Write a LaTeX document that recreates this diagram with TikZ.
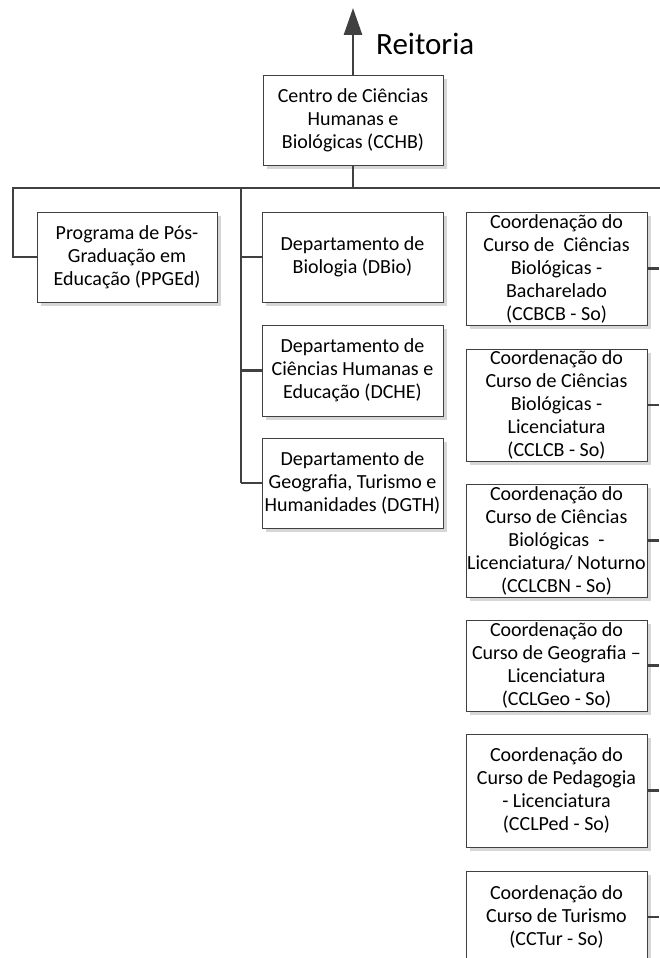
\documentclass[tikz,border=0pt]{standalone}
\usepackage{fontspec}
\setmainfont{Carlito}
\usetikzlibrary{arrows.meta,shadows}
\definecolor{lnc}{HTML}{404040}
\definecolor{shd}{HTML}{D6D6D6}
\tikzset{
  orgbox/.style={draw=lnc, line width=1pt, fill=white, align=center, inner sep=0pt,
    minimum width=#1,
    font=\fontsize{20}{23}\selectfont,
    drop shadow={shadow xshift=4pt, shadow yshift=-4pt, fill=shd, opacity=1}},
  orgbox/.default=181pt,
  conn/.style={draw=lnc, line width=2.8pt},
}
\begin{document}
\begin{tikzpicture}[x=1pt,y=-1pt]
\useasboundingbox (0,0) rectangle (659,958);

% boxes
\node[orgbox=180pt, minimum height=90pt] (cchb) at (353,120)
  {Centro de Ciências\\Humanas e\\Biológicas (CCHB)};
\node[orgbox=180pt, minimum height=90pt] (ppged) at (127,257)
  {Programa de Pós-\\Graduação em\\Educação (PPGEd)};
\node[orgbox, minimum height=90pt] (dbio) at (352.5,257)
  {Departamento de\\Biologia (DBio)};
\node[orgbox, minimum height=91pt] (dche) at (352.5,370.5)
  {Departamento de\\Ciências Humanas e\\Educação (DCHE)};
\node[orgbox, minimum height=90pt] (dgth) at (352.5,483)
  {Departamento de\\Geografia, Turismo e\\Humanidades (DGTH)};

\node[orgbox, minimum height=113pt] (r1) at (556.5,268.5)
  {Coordenação do\\Curso de\ \ Ciências\\Biológicas -\\Bacharelado\\(CCBCB - So)};
\node[orgbox, minimum height=112pt] (r2) at (556.5,405)
  {Coordenação do\\Curso de Ciências\\Biológicas -\\Licenciatura\\(CCLCB - So)};
\node[orgbox, minimum height=113pt] (r3) at (556.5,540.5)
  {Coordenação do\\Curso de Ciências\\Biológicas\ \ -\\Licenciatura/ Noturno\\(CCLCBN - So)};
\node[orgbox, minimum height=91pt] (r4) at (556.5,665.5)
  {Coordenação do\\Curso de Geografia –\\Licenciatura\\(CCLGeo - So)};
\node[orgbox, minimum height=113pt] (r5) at (556.5,790.5)
  {Coordenação do\\Curso de Pedagogia\\- Licenciatura\\(CCLPed - So)};
\node[orgbox, minimum height=92pt] (r6) at (556.5,917)
  {Coordenação do\\Curso de Turismo\\(CCTur - So)};

% Reitoria label
\node[anchor=base west, inner sep=0pt, font=\fontsize{31}{36}\selectfont] (reit) at (376,55) {Reitoria};

% coordinates
\coordinate (top) at (353,8);
\coordinate (busL) at (13,188);
\coordinate (busC) at (353,188);
\coordinate (busR) at (659,188);
\coordinate (trunkT) at (241,188);
\coordinate (trunkB) at (241,483);
\coordinate (e1) at (659,268.5);
\coordinate (e2) at (659,405);
\coordinate (e3) at (659,540.5);
\coordinate (e4) at (659,665.5);
\coordinate (e5) at (659,790.5);
\coordinate (e6) at (659,917);

% connectors
\draw[conn, -{Triangle[width=18pt,length=27pt]}] (cchb.north) -- (top);
\draw[conn] (cchb.south) -- (busC);
\draw[conn, line cap=rect] (busL) -- (busR);
\draw[conn] (busL) |- (ppged.west);
\draw[conn] (trunkT) -- (trunkB);
\draw[conn] (dbio.west -| trunkT) -- (dbio.west);
\draw[conn] (dche.west -| trunkT) -- (dche.west);
\draw[conn] (trunkB) -- (dgth.west);
\draw[conn] (r1.east) -- (e1);
\draw[conn] (r2.east) -- (e2);
\draw[conn] (r3.east) -- (e3);
\draw[conn] (r4.east) -- (e4);
\draw[conn] (r5.east) -- (e5);
\draw[conn] (r6.east) -- (e6);
\end{tikzpicture}
\end{document}
